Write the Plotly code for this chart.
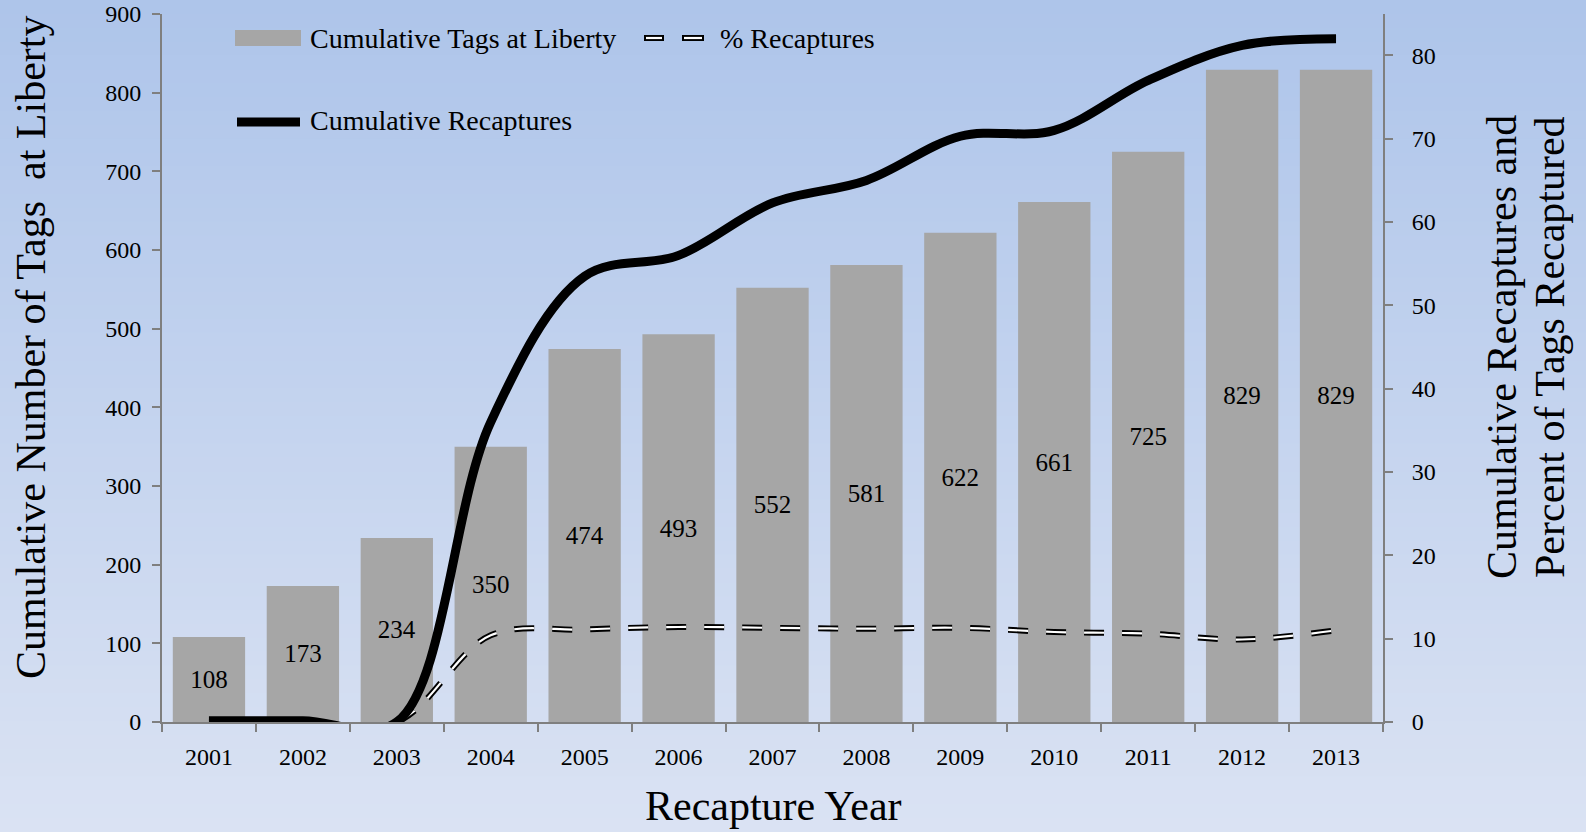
import plotly.graph_objects as go

years = [str(y) for y in range(2001, 2014)]
tags_at_liberty = [108, 173, 234, 350, 474, 493, 552, 581, 622, 661, 725, 829, 829]
cum_recaptures = [0.15, 0.15, 0, 36, 53.5, 56, 62.3, 65, 70.3, 71, 77, 81.2, 82]
pct_recaptured = [0, 0, 0, 10.4, 11.1, 11.4, 11.3, 11.2, 11.3, 10.8, 10.6, 9.9, 11.0]

FONT = "Liberation Serif"
GRAY = "#a6a6a6"
AXIS = "#7f7f7f"
DASH = "20px,18px"

# plot area in page pixels, used to place the legend and titles
L, R, T, B = 162, 1383, 14, 722


def px(x):
    return (x - L) / (R - L)


def py(y):
    return (B - y) / (B - T)


fig = go.Figure()

fig.add_bar(
    x=years, y=tags_at_liberty, name="Cumulative Tags at Liberty",
    marker=dict(color=GRAY, line=dict(width=0)), width=0.77,
    text=[str(v) for v in tags_at_liberty], textposition="inside",
    insidetextanchor="middle", textangle=0,
    textfont=dict(family=FONT, size=25, color="black"),
)

# dashed line: black outline under a thinner white dash
fig.add_scatter(
    x=years, y=pct_recaptured, yaxis="y2", mode="lines", name="% Recaptures",
    line=dict(color="black", width=6, dash=DASH, shape="spline"),
)
fig.add_scatter(
    x=years, y=pct_recaptured, yaxis="y2", mode="lines",
    line=dict(color="white", width=2.2, dash=DASH, shape="spline"),
    hoverinfo="skip",
)
fig.add_scatter(
    x=years, y=cum_recaptures, yaxis="y2", mode="lines",
    name="Cumulative Recaptures",
    line=dict(color="black", width=9, shape="spline"),
)

# vertical background gradient
top, bot = (174, 197, 234), (218, 226, 243)
n = 60
y_hi, y_lo = py(0), py(832)
for i in range(n):
    t = i / (n - 1)
    c = tuple(round(top[k] + (bot[k] - top[k]) * t) for k in range(3))
    fig.add_shape(type="rect", xref="paper", yref="paper", layer="below",
                  x0=px(-5), x1=px(1600),
                  y0=y_hi + (y_lo - y_hi) * (i + 1) / n - 0.003,
                  y1=y_hi + (y_lo - y_hi) * i / n,
                  fillcolor="rgb(%d,%d,%d)" % c, line=dict(width=0))

# legend, drawn by hand to get the wide symbols
leg_font = dict(family=FONT, size=28, color="black")
fig.add_shape(type="rect", xref="paper", yref="paper",
              x0=px(235), x1=px(301), y0=py(46), y1=py(30),
              fillcolor=GRAY, line=dict(width=0))
for x0, x1 in [(644, 664), (682, 704)]:
    fig.add_shape(type="line", xref="paper", yref="paper",
                  x0=px(x0), x1=px(x1), y0=py(38), y1=py(38),
                  line=dict(color="black", width=6))
    fig.add_shape(type="line", xref="paper", yref="paper",
                  x0=px(x0 + 2), x1=px(x1 - 2), y0=py(38), y1=py(38),
                  line=dict(color="white", width=2.2))
fig.add_shape(type="line", xref="paper", yref="paper",
              x0=px(237), x1=px(300), y0=py(122), y1=py(122),
              line=dict(color="black", width=9))
for text, x, y in [("Cumulative Tags at Liberty", 308, 38),
                   ("% Recaptures", 718, 38),
                   ("Cumulative Recaptures", 308, 121)]:
    fig.add_annotation(text=text, xref="paper", yref="paper", x=px(x), y=py(y),
                       xanchor="left", yanchor="middle", showarrow=False,
                       font=leg_font)

# axis titles as annotations so they sit where the original has them
title_font = dict(family=FONT, size=42, color="black")
for text, x, y, angle in [
        ("Recapture Year", 773, 806, 0),
        ("Cumulative Number of Tags  at Liberty", 31, 348, -90),
        ("Cumulative Recaptures and", 1502, 347, -90),
        ("Percent of Tags Recaptured", 1550, 347, -90)]:
    fig.add_annotation(text=text, xref="paper", yref="paper", x=px(x), y=py(y),
                       xanchor="center", yanchor="middle", showarrow=False,
                       textangle=angle, font=title_font)

tick_font = dict(family=FONT, size=24, color="black")
axis_style = dict(showgrid=False, showline=True, linecolor=AXIS, linewidth=2,
                  ticks="outside", tickcolor=AXIS, ticklen=8, tickwidth=2,
                  tickfont=tick_font, automargin=False)

fig.update_layout(
    width=1586, height=832,
    margin=dict(l=L, r=1586 - R, t=T, b=832 - B, autoexpand=False),
    paper_bgcolor="rgb(200,212,236)", plot_bgcolor="rgba(0,0,0,0)",
    font=dict(family=FONT, color="black"),
    showlegend=False,
    xaxis=dict(tickson="boundaries", ticklabelstandoff=12, **axis_style),
    yaxis=dict(range=[0, 900], dtick=100, zeroline=False, ticklabelstandoff=6,
               **axis_style),
    yaxis2=dict(overlaying="y", side="right", range=[0, 84.97], dtick=10,
                zeroline=False, ticklabelstandoff=14, **axis_style),
)

fig.write_html("out.html", config={"displayModeBar": False},
               post_script="document.body.style.margin='0';")
